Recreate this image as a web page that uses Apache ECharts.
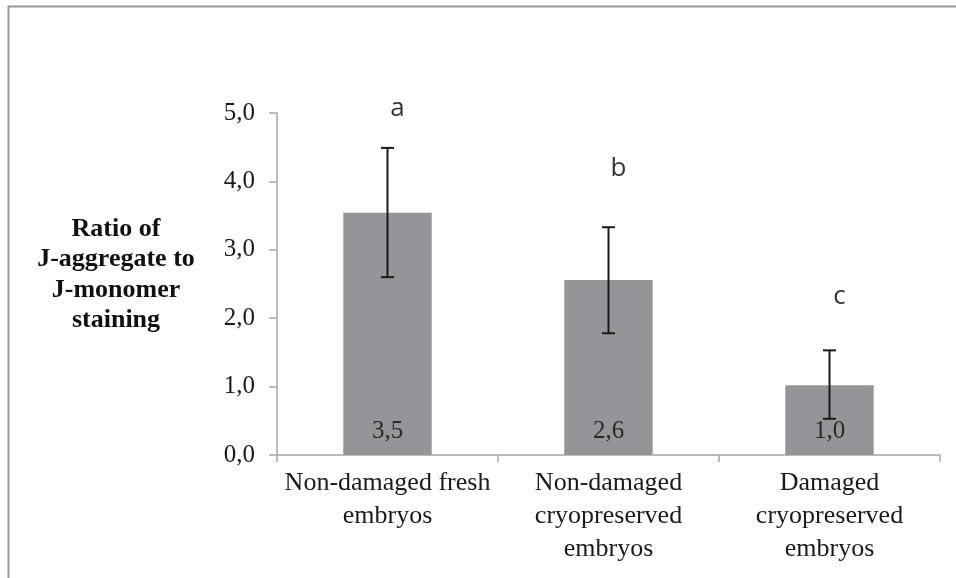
<!DOCTYPE html>
<html>
<head>
<meta charset="utf-8">
<script src="https://cdn.jsdelivr.net/npm/echarts@6/dist/echarts.min.js"></script>
<style>
  html, body { margin: 0; padding: 0; background: #fff; }
  #chart { width: 956px; height: 578px; }
</style>
</head>
<body>
<div id="chart"></div>
<script>
const categories = [
  'Non-damaged fresh\nembryos',
  'Non-damaged\ncryopreserved\nembryos',
  'Damaged\ncryopreserved\nembryos'
];
const ratioValues = [3.54, 2.56, 1.02];
const errorLow = [2.60, 1.78, 0.53];
const errorHigh = [4.49, 3.33, 1.53];
const sigLetters = ['a', 'b', 'c'];
const sigLetterLevel = [5.07, 4.19, 2.31];
const yMin = 0, yMax = 5, yStep = 1;
const yTitle = 'Ratio of\nJ-aggregate to\nJ-monomer\nstaining';

const serif = '"Liberation Serif", "Times New Roman", serif';
const comma = v => v.toFixed(1).replace('.', ',');

const chart = echarts.init(document.getElementById('chart'));

const errorData = categories.map((c, i) => [i, errorLow[i], errorHigh[i]]);

chart.setOption({
  backgroundColor: '#fff',
  animation: false,
  graphic: [
    {
      type: 'rect',
      shape: { x: 8.5, y: 6.5, width: 1000, height: 700 },
      style: { fill: 'none', stroke: '#9a9a9a', lineWidth: 2 },
      silent: true
    },
    {
      // y axis title, kept horizontal and centred left of the axis
      type: 'text',
      x: 116,
      y: 275,
      style: {
        text: yTitle,
        fill: '#111',
        font: 'bold 26px ' + serif,
        lineHeight: 30.5,
        align: 'center',
        verticalAlign: 'middle'
      }
    }
  ],
  grid: { left: 277, right: 16, top: 113, bottom: 123 },
  xAxis: {
    type: 'category',
    data: categories,
    axisLine: { lineStyle: { color: '#a6a6a6', width: 1.5 } },
    axisTick: { show: true, length: 7, lineStyle: { color: '#a6a6a6', width: 1.5 } },
    axisLabel: {
      color: '#1a1a1a', fontFamily: serif, fontSize: 26, lineHeight: 33,
      margin: 12, interval: 0, align: 'center'
    }
  },
  yAxis: {
    type: 'value',
    min: yMin, max: yMax, interval: yStep,
    axisLine: { show: true, lineStyle: { color: '#a6a6a6', width: 1.5 } },
    axisTick: { show: true, length: 8, lineStyle: { color: '#a6a6a6', width: 1.5 } },
    splitLine: { show: false },
    axisLabel: {
      color: '#1a1a1a', fontFamily: serif, fontSize: 25, margin: 22,
      formatter: v => comma(v)
    }
  },
  series: [
    {
      type: 'bar',
      data: ratioValues,
      barWidth: '40%',
      itemStyle: { color: '#939598' },
      label: {
        show: true,
        position: 'insideBottom',
        distance: 11,
        color: '#2a2a2a',
        fontFamily: serif,
        fontSize: 25,
        formatter: p => comma(p.value)
      }
    },
    {
      type: 'custom',
      data: errorData,
      encode: { x: 0, y: [1, 2] },
      z: 5,
      renderItem: (params, api) => {
        const lo = api.coord([api.value(0), api.value(1)]);
        const hi = api.coord([api.value(0), api.value(2)]);
        const hw = 6.5;
        const style = { stroke: '#1a1a1a', lineWidth: 2 };
        return {
          type: 'group',
          children: [
            { type: 'line', shape: { x1: lo[0], y1: lo[1], x2: hi[0], y2: hi[1] }, style },
            { type: 'line', shape: { x1: lo[0] - hw, y1: lo[1], x2: lo[0] + hw, y2: lo[1] }, style },
            { type: 'line', shape: { x1: hi[0] - hw, y1: hi[1], x2: hi[0] + hw, y2: hi[1] }, style }
          ]
        };
      }
    },
    {
      type: 'scatter',
      data: sigLetterLevel,
      symbolSize: 0,
      clip: false,
      label: {
        show: true,
        position: 'inside',
        offset: [10, 0],
        color: '#000',
        fontFamily: '"Open Sans", "Noto Sans", sans-serif',
        fontSize: 26,
        formatter: p => sigLetters[p.dataIndex]
      }
    }
  ]
});
</script>
</body>
</html>
